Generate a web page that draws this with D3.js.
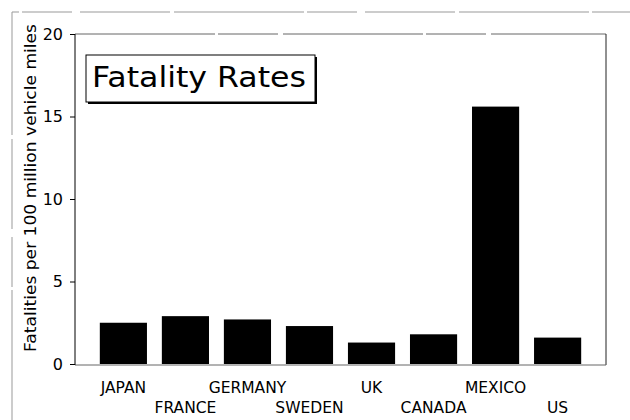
<!DOCTYPE html>
<html><head><meta charset="utf-8">
<script src="https://cdn.jsdelivr.net/npm/d3@7"></script>
<style>
html,body{margin:0;padding:0;background:#fff;}
svg{display:block;}
text{font-family:"DejaVu Sans",sans-serif;fill:#000;}
</style></head>
<body><svg id="c" width="630" height="420"></svg>
<script>
const categories = ["JAPAN","FRANCE","GERMANY","SWEDEN","UK","CANADA","MEXICO","US"];
const values = [2.5, 2.9, 2.7, 2.3, 1.3, 1.8, 15.6, 1.6];
const yTicks = [0, 5, 10, 15, 20];
const title = "Fatality Rates";
const yLabel = "Fatalities per 100 million vehicle miles";

const svg = d3.select("#c");
const L = 75, R = 606, T = 34, B = 364;

// outer frame (faint)
svg.append("path").attr("d", `M12,420V12H630`).attr("fill","none")
  .attr("stroke","#999").attr("stroke-width",1).attr("stroke-dasharray","130,3,50,8,90,4");

const x = d3.scaleBand().domain(categories).range([L, R]).paddingInner(0.24).paddingOuter(0.40);
const y = d3.scaleLinear().domain([0, 20]).range([B, T]);

// plot frame
svg.append("line").attr("x1",L).attr("x2",R).attr("y1",T).attr("y2",T).attr("stroke","#666").attr("stroke-dasharray","140,3,60,5");
svg.append("line").attr("x1",R).attr("x2",R).attr("y1",T).attr("y2",B+1).attr("stroke","#222");
svg.append("line").attr("x1",L).attr("x2",R).attr("y1",B+1).attr("y2",B+1).attr("stroke","#666");

// bars
svg.append("g").selectAll("rect").data(categories).join("rect")
  .attr("x", d => x(d)).attr("width", x.bandwidth())
  .attr("y", (d,i) => y(values[i])).attr("height", (d,i) => y(0) - y(values[i]))
  .attr("fill", "#000");

// y axis
const ay = svg.append("g").attr("transform", `translate(${L},0)`)
  .call(d3.axisLeft(y).tickValues(yTicks).tickSize(5).tickPadding(7));
ay.select(".domain").attr("stroke","#000").attr("d", `M0,${T}V${B+1}`);
ay.selectAll(".tick line").attr("stroke","#000");
ay.selectAll(".tick text").attr("font-size", 16).attr("font-family","Noto Sans");

// x labels (staggered)
svg.append("g").selectAll("text").data(categories).join("text")
  .attr("x", d => x(d) + x.bandwidth()/2)
  .attr("y", (d,i) => i % 2 === 0 ? 393 : 413)
  .attr("text-anchor","middle").attr("font-size", 15.5).text(d => d);

// y label
svg.append("text").attr("transform", "translate(36,188) rotate(-90)")
  .attr("text-anchor","middle").attr("font-size",16)
  .attr("textLength",328).attr("lengthAdjust","spacingAndGlyphs").text(yLabel);

// title box with shadow
svg.append("rect").attr("x",88).attr("y",57).attr("width",229).attr("height",47).attr("fill","#000");
svg.append("rect").attr("x",86).attr("y",55).attr("width",229).attr("height",47).attr("fill","#fff").attr("stroke","#000").attr("stroke-width",1);
svg.append("text").attr("x",92).attr("y",87).attr("font-size",29).attr("font-family","Noto Sans")
  .attr("textLength",214).attr("lengthAdjust","spacingAndGlyphs").text(title);
</script></body></html>
